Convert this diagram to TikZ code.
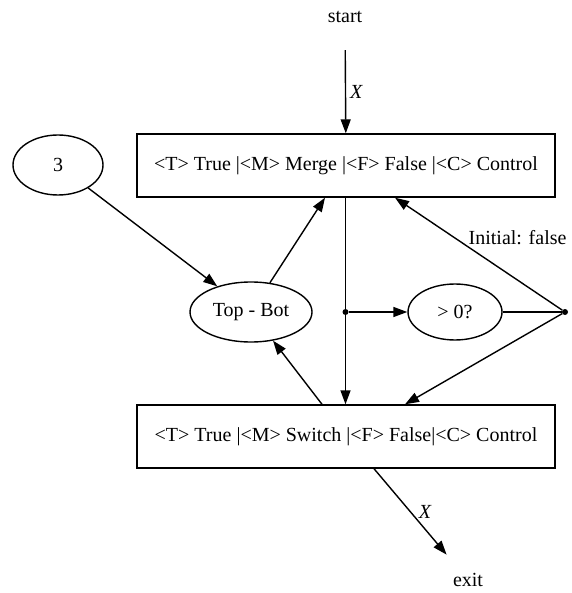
\documentclass[tikz,border=0pt]{standalone}
\usepackage{fontspec}
\setmainfont{Liberation Serif}
\usetikzlibrary{arrows.meta, shapes.geometric, calc}
\tikzset{
	portbox/.style={draw, rectangle, minimum width=418pt, minimum height=63pt, line width=1.4pt},
	oval/.style={draw, ellipse, line width=1.4pt, inner sep=0pt},
	term/.style={circle, minimum size=66pt, inner sep=0pt},
	flow/.style={-{Triangle[length=14pt,width=10pt]}, line width=1.4pt},
	joint/.style={circle, fill, inner sep=0pt, minimum size=6pt},
}

\begin{document}
\begin{tikzpicture}[x=1pt, y=-1pt, font=\fontsize{20}{24}\selectfont]
\useasboundingbox (0,0) rectangle (571,593);

\node[term] (start) at (345,17) {start};
\node[portbox] (merge) at (346,165.5) {<T> True |<M> Merge |<F> False |<C> Control};
\node[oval, minimum width=90pt, minimum height=60pt] (three) at (58,165) {3};
\node[oval, minimum width=122pt, minimum height=60pt] (topbot) at (251,312) {Top - Bot};
\node[joint] (split) at (345.5,312) {};
\node[oval, minimum width=94pt, minimum height=56pt] (gtzero) at (455,312) {> 0?};
\node[joint] (ctrl) at (565,312) {};
\node[portbox] (switch) at (346,436.5) {<T> True |<M> Switch |<F> False|<C> Control};
\node[term] (exit) at (468,580) {exit};

\draw[flow] (start) -- (merge) node[midway, right, inner sep=4pt] {\textit{X}};
\draw[flow] (three) -- (topbot);
\draw[flow] (topbot) -- ($(merge.south)+(-21,0)$);
\draw[line width=1.4pt] (merge.south -| split) -- (split);
\draw[flow] (split) -- (split |- switch.north);
\draw[flow] (split) -- (gtzero);
\draw[line width=1.4pt] (gtzero) -- (ctrl);
\draw[flow] (ctrl) -- ($(merge.south)+(49,0)$) node[midway, above right, xshift=-14pt, yshift=5pt] {Initial: false};
\draw[flow] (ctrl) -- ($(switch.north)+(59,0)$);
\draw[flow] ($(switch.north)+(-24,0)$) -- (topbot);
\draw[flow] ($(switch.south)+(28,0)$) -- (exit) node[midway, right, inner sep=8pt] {\textit{X}};
\end{tikzpicture}
\end{document}
